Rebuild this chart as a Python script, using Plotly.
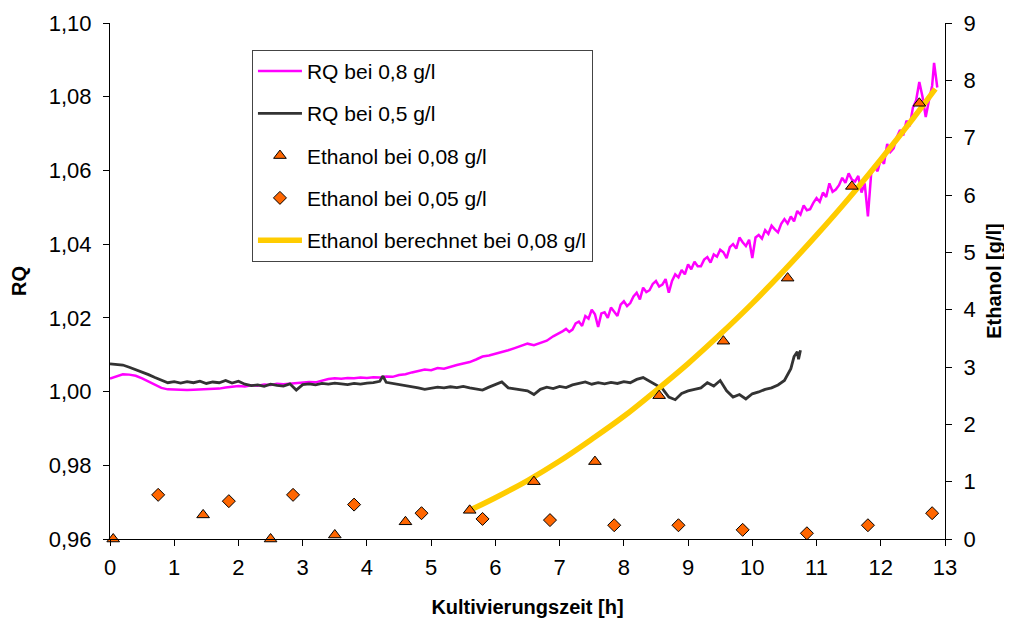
import plotly.graph_objects as go

# RQ bei 0,8 g/l (left axis)
rq08_time = [
    0.0, 0.1, 0.2, 0.3, 0.4, 0.5, 0.6, 0.7, 0.8, 0.9,
    1.0, 1.1, 1.2, 1.3, 1.4, 1.5, 1.6, 1.7, 1.8, 1.9,
    2.0, 2.1, 2.2, 2.3, 2.4, 2.5, 2.6, 2.7, 2.8, 2.9,
    3.0, 3.1, 3.2, 3.3, 3.4, 3.5, 3.6, 3.7, 3.8, 3.9,
    4.0, 4.1, 4.2, 4.3, 4.4, 4.5, 4.6, 4.7, 4.8, 4.9,
    5.0, 5.1, 5.2, 5.3, 5.4, 5.5, 5.6, 5.7, 5.8, 5.9,
    6.0, 6.1, 6.2, 6.3, 6.4, 6.5, 6.6, 6.7, 6.8, 6.9,
    7.0, 7.05, 7.1, 7.15, 7.2, 7.25, 7.3, 7.35, 7.4, 7.45,
    7.5, 7.55, 7.6, 7.65, 7.7, 7.75, 7.8, 7.85, 7.9, 7.95,
    8.0, 8.05, 8.1, 8.15, 8.2, 8.25, 8.3, 8.35, 8.4, 8.45,
    8.5, 8.55, 8.6, 8.65, 8.7, 8.75, 8.8, 8.85, 8.9, 8.95,
    9.0, 9.05, 9.1, 9.15, 9.2, 9.25, 9.3, 9.35, 9.4, 9.45,
    9.5, 9.55, 9.6, 9.65, 9.7, 9.75, 9.8, 9.85, 9.9, 9.95,
    10.0, 10.05, 10.1, 10.15, 10.2, 10.25, 10.3, 10.35, 10.4, 10.45,
    10.5, 10.55, 10.6, 10.65, 10.7, 10.75, 10.8, 10.85, 10.9, 10.95,
    11.0, 11.05, 11.1, 11.15, 11.2, 11.25, 11.3, 11.35, 11.4, 11.45,
    11.5, 11.55, 11.6, 11.65, 11.7, 11.75, 11.8, 11.85, 11.9, 11.95,
    12.0, 12.05, 12.1, 12.15, 12.2, 12.25, 12.3, 12.35, 12.4, 12.45,
    12.5, 12.55, 12.6, 12.65, 12.7, 12.75, 12.8, 12.83, 12.86, 12.88,
]
rq08 = [
    1.0035, 1.0042, 1.0047, 1.0046, 1.0043, 1.0036, 1.0027, 1.0018, 1.0010, 1.0006,
    1.0005, 1.0006, 1.0004, 1.0005, 1.0006, 1.0005, 1.0007, 1.0008, 1.0011, 1.0013,
    1.0015, 1.0014, 1.0017, 1.0016, 1.0019, 1.0018, 1.0021, 1.0020, 1.0022, 1.0023,
    1.0024, 1.0026, 1.0025, 1.0030, 1.0034, 1.0036, 1.0035, 1.0037, 1.0036, 1.0038,
    1.0037, 1.0039, 1.0038, 1.0041, 1.0040, 1.0045, 1.0047, 1.0052, 1.0055, 1.0060,
    1.0058, 1.0064, 1.0062, 1.0068, 1.0072, 1.0076, 1.0080, 1.0087, 1.0095, 1.0098,
    1.0102, 1.0106, 1.0112, 1.0118, 1.0124, 1.0130, 1.0126, 1.0132, 1.0138, 1.0150,
    1.0158, 1.0164, 1.0170, 1.0162, 1.0168, 1.0185, 1.0190, 1.0178, 1.0205, 1.0198,
    1.0222, 1.0210, 1.0175, 1.0212, 1.0215, 1.0200, 1.0228, 1.0218, 1.0205, 1.0236,
    1.0245, 1.0232, 1.0240, 1.0258, 1.0268, 1.0250, 1.0282, 1.0270, 1.0275, 1.0292,
    1.0300, 1.0285, 1.0290, 1.0305, 1.0268, 1.0300, 1.0318, 1.0310, 1.0330, 1.0318,
    1.0345, 1.0332, 1.0352, 1.0340, 1.0340, 1.0358, 1.0365, 1.0350, 1.0372, 1.0366,
    1.0385, 1.0378, 1.0362, 1.0392, 1.0400, 1.0388, 1.0418, 1.0405, 1.0395, 1.0412,
    1.0362, 1.0418, 1.0425, 1.0415, 1.0438, 1.0428, 1.0450, 1.0440, 1.0432, 1.0455,
    1.0468, 1.0456, 1.0475, 1.0462, 1.0490, 1.0480, 1.0505, 1.0492, 1.0495, 1.0512,
    1.0525, 1.0515, 1.0540, 1.0528, 1.0565, 1.0542, 1.0548, 1.0560, 1.0580, 1.0566,
    1.0592, 1.0575, 1.0570, 1.0585, 1.0540, 1.0565, 1.0475, 1.0590, 1.0610, 1.0598,
    1.0630, 1.0618, 1.0672, 1.0650, 1.0660, 1.0690, 1.0710, 1.0695, 1.0735, 1.0720,
    1.0770, 1.0790, 1.0840, 1.0800, 1.0745, 1.0790, 1.0830, 1.0892, 1.0850, 1.0825,
]

# RQ bei 0,5 g/l (left axis)
rq05_time = [
    0.0, 0.1, 0.2, 0.3, 0.4, 0.5, 0.6, 0.7, 0.8, 0.9,
    1.0, 1.1, 1.2, 1.3, 1.4, 1.5, 1.6, 1.7, 1.8, 1.9,
    2.0, 2.1, 2.2, 2.3, 2.4, 2.5, 2.6, 2.7, 2.8, 2.9,
    3.0, 3.1, 3.2, 3.3, 3.4, 3.5, 3.6, 3.7, 3.8, 3.9,
    4.0, 4.1, 4.2, 4.25, 4.3, 4.4, 4.5, 4.6, 4.7, 4.8, 4.9,
    5.0, 5.1, 5.2, 5.3, 5.4, 5.5, 5.6, 5.7, 5.8, 5.9,
    6.0, 6.1, 6.2, 6.3, 6.4, 6.5, 6.6, 6.7, 6.8, 6.9,
    7.0, 7.1, 7.2, 7.3, 7.4, 7.5, 7.6, 7.7, 7.8, 7.9,
    8.0, 8.1, 8.2, 8.3, 8.4, 8.5, 8.6, 8.7, 8.8, 8.9,
    9.0, 9.1, 9.2, 9.3, 9.4, 9.5, 9.6, 9.7, 9.8, 9.9,
    10.0, 10.1, 10.2, 10.3, 10.4, 10.5, 10.6, 10.65, 10.7, 10.72, 10.75,
]
rq05 = [
    1.0075, 1.0074, 1.0072, 1.0066, 1.0060, 1.0053, 1.0046, 1.0038, 1.0030, 1.0024,
    1.0027, 1.0023, 1.0027, 1.0024, 1.0028, 1.0022, 1.0026, 1.0024, 1.0030, 1.0023,
    1.0028, 1.0020, 1.0016, 1.0018, 1.0014, 1.0020, 1.0017, 1.0015, 1.0021, 1.0004,
    1.0019, 1.0021, 1.0018, 1.0022, 1.0020, 1.0023, 1.0021, 1.0019, 1.0022, 1.0020,
    1.0023, 1.0024, 1.0028, 1.0042, 1.0025, 1.0022, 1.0019, 1.0018, 1.0015, 1.0010, 1.0006,
    1.0009, 1.0012, 1.0010, 1.0013, 1.0011, 1.0014, 1.0010, 1.0006, 1.0004, 1.0012,
    1.0018, 1.0026, 1.0010, 1.0008, 1.0004, 1.0002, 0.9992, 1.0006, 1.0012, 1.0008,
    1.0014, 1.0011, 1.0018, 1.0022, 1.0026, 1.0020, 1.0024, 1.0021, 1.0025, 1.0022,
    1.0027, 1.0024, 1.0033, 1.0038, 1.0028, 1.0018, 1.0008, 0.9985, 0.9978, 0.9995,
    1.0002, 1.0006, 1.0010, 1.0024, 1.0015, 1.0030, 1.0002, 0.9985, 0.9992, 0.9980,
    0.9994, 0.9999, 1.0006, 1.0010, 1.0018, 1.0030, 1.0062, 1.0095, 1.0108, 1.0088, 1.0112,
]

# Ethanol measurements (right axis, g/l)
eth08_time = [0.05, 1.45, 2.5, 3.5, 4.6, 5.6, 6.6, 7.55, 8.55, 9.55, 10.55, 11.55, 12.6]
eth08 = [0.0, 0.42, 0.0, 0.07, 0.3, 0.5, 1.0, 1.35, 2.5, 3.45, 4.55, 6.15, 7.6]

eth05_time = [0.75, 1.85, 2.85, 3.8, 4.85, 5.8, 6.85, 7.85, 8.85, 9.85, 10.85, 11.8, 12.8]
eth05 = [0.77, 0.66, 0.77, 0.6, 0.45, 0.35, 0.33, 0.24, 0.24, 0.16, 0.1, 0.24, 0.45]

# Ethanol berechnet bei 0,08 g/l
calc_time = [5.6, 6.0, 6.5, 7.0, 7.5, 8.0, 8.5, 9.0, 9.5, 10.0, 10.5, 11.0, 11.5, 12.0, 12.5, 12.85]
calc_eth = [0.5, 0.72, 1.02, 1.36, 1.74, 2.14, 2.59, 3.06, 3.57, 4.11, 4.69, 5.30, 5.94, 6.62, 7.33, 7.85]

FONT = "Liberation Sans, Arial, sans-serif"
ORANGE = "#FF6600"

fig = go.Figure()

fig.add_trace(go.Scatter(
    x=rq08_time, y=rq08, mode="lines", name="RQ bei 0,8 g/l",
    line=dict(color="#FF00FF", width=2.5), legendgroup="a", legendrank=1,
))
fig.add_trace(go.Scatter(
    x=rq05_time, y=rq05, mode="lines", name="RQ bei 0,5 g/l",
    line=dict(color="#333333", width=2.8), legendgroup="b", legendrank=2,
))
fig.add_trace(go.Scatter(
    x=calc_time, y=calc_eth, mode="lines", name="Ethanol berechnet bei 0,08 g/l",
    line=dict(color="#FFCC00", width=5.5, shape="spline"), yaxis="y2",
    legendgroup="e", legendrank=5,
))
fig.add_trace(go.Scatter(
    x=eth08_time, y=eth08, mode="markers", name="Ethanol bei 0,08 g/l",
    marker=dict(symbol="triangle-up", size=11, color=ORANGE, line=dict(color="black", width=1)),
    yaxis="y2", cliponaxis=False, legendgroup="c", legendrank=3,
))
fig.add_trace(go.Scatter(
    x=eth05_time, y=eth05, mode="markers", name="Ethanol bei 0,05 g/l",
    marker=dict(symbol="diamond", size=10, color=ORANGE, line=dict(color="black", width=1)),
    yaxis="y2", cliponaxis=False, legendgroup="d", legendrank=4,
))

axis_common = dict(
    showgrid=False, zeroline=False, showline=True, linecolor="black", linewidth=1,
    ticks="outside", ticklen=6, tickcolor="black", automargin=False,
    tickfont=dict(family=FONT, size=22, color="black"),
)
title_font = dict(family=FONT, size=20, color="black")

# page body has an 8px margin, so the figure is sized 8px smaller
fig.update_layout(
    width=1004, height=612,
    margin=dict(l=102, r=67, t=15, b=81),
    paper_bgcolor="white", plot_bgcolor="white",
    separators=", ",
    font=dict(family=FONT, color="black"),
    xaxis=dict(
        range=[0, 13], dtick=1, tick0=0, ticklabelstandoff=3,
        title=dict(text="<b>Kultivierungszeit [h]</b>", font=title_font, standoff=20),
        **axis_common,
    ),
    yaxis=dict(
        range=[0.96, 1.10], dtick=0.02, tick0=0.96, tickformat=".2f", ticklabelstandoff=7,
        title=dict(text="<b>RQ</b>", font=title_font, standoff=17),
        **axis_common,
    ),
    yaxis2=dict(
        range=[0, 9], dtick=1, tick0=0, overlaying="y", side="right", ticklabelstandoff=7,
        title=dict(text="<b>Ethanol [g/l]</b>", font=title_font, standoff=12),
        **axis_common,
    ),
    legend=dict(
        x=0.170, y=0.948, xanchor="left", yanchor="top",
        bgcolor="white", bordercolor="#444444", borderwidth=1,
        font=dict(family=FONT, size=21, color="black"),
        tracegroupgap=12, itemwidth=44,
    ),
    showlegend=True,
)

fig.write_html("out.html")
